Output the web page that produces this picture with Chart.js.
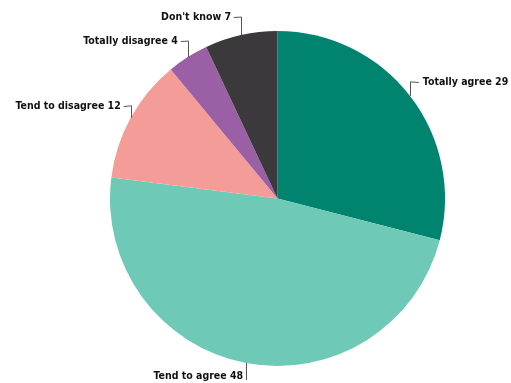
<!DOCTYPE html>
<html>
<head>
<meta charset="utf-8">
<script src="https://cdn.jsdelivr.net/npm/chart.js@4/dist/chart.umd.min.js"></script>
<style>
  body { margin: 0; background: #fff; }
  canvas { display: block; }
</style>
</head>
<body>
<canvas id="pie" width="511" height="383"></canvas>
<script>
// Survey answers (%), clockwise from 12 o'clock
const categories = ['Totally agree', 'Tend to agree', 'Tend to disagree', 'Totally disagree', "Don't know"];
const shares = [29, 48, 12, 4, 7];
const sliceColours = ['#008470', '#6ec9b7', '#f49c98', '#9b5fa5', '#3c393d'];

// how far the leader line climbs (negative = goes down) before turning, per slice
const leaderRise = [14, -17, 12, 16, 18];

const calloutPlugin = {
    id: 'callouts',
    afterDraw(chart) {
        const ctx = chart.ctx;
        const meta = chart.getDatasetMeta(0);
        ctx.save();
        ctx.font = 'bold 10.5px "Liberation Sans Narrow", "Arial Narrow", "DejaVu Sans Condensed", Arial, sans-serif';
        ctx.strokeStyle = '#555';
        ctx.lineWidth = 1;
        ctx.fillStyle = '#111';
        meta.data.forEach((arc, i) => {
            const p = arc.getProps(['x', 'y', 'startAngle', 'endAngle', 'outerRadius'], true);
            const mid = (p.startAngle + p.endAngle) / 2;
            const ax = p.x + Math.cos(mid) * p.outerRadius;
            const ay = p.y + Math.sin(mid) * p.outerRadius;
            const text = categories[i] + ' ' + shares[i];
            const rise = leaderRise[i];
            const ey = ay - rise;
            const right = Math.cos(mid) > 0.2;
            ctx.beginPath();
            ctx.moveTo(Math.round(ax) + 0.5, ay);
            ctx.lineTo(Math.round(ax) + 0.5, ey);
            if (rise > 0) {
                const hx = right ? ax + 9 : ax - 7;
                ctx.lineTo(hx, Math.round(ey) + 0.5);
                ctx.stroke();
                ctx.textBaseline = 'middle';
                ctx.textAlign = right ? 'left' : 'right';
                ctx.fillText(text, right ? hx + 4 : hx - 3, ey);
            } else {
                ctx.stroke();
                ctx.textBaseline = 'middle';
                ctx.textAlign = 'right';
                ctx.fillText(text, ax - 3, ey - 4);
            }
        });
        ctx.restore();
    }
};

new Chart(document.getElementById('pie'), {
    type: 'pie',
    data: {
        labels: categories,
        datasets: [{
            data: shares,
            backgroundColor: sliceColours,
            borderWidth: 0
        }]
    },
    options: {
        responsive: false,
        animation: false,
        layout: { padding: { top: 31, bottom: 17, left: 110, right: 66 } },
        plugins: {
            legend: { display: false },
            tooltip: { enabled: false }
        }
    },
    plugins: [calloutPlugin]
});
</script>
</body>
</html>
